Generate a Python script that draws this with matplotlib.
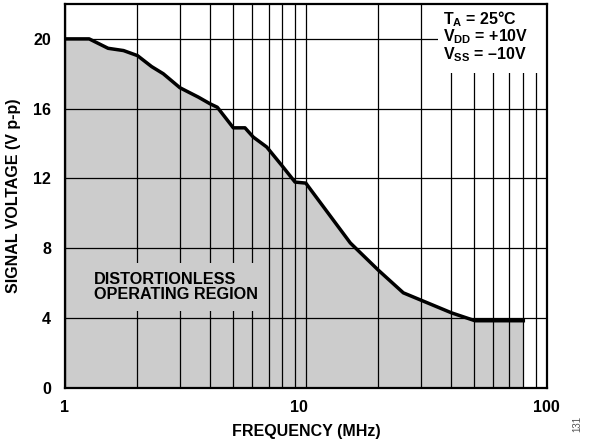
import matplotlib
matplotlib.use("Agg")
import matplotlib.pyplot as plt
from matplotlib.patches import Rectangle
from matplotlib.ticker import FixedLocator, NullFormatter
from matplotlib.transforms import ScaledTranslation

plt.rcParams['font.family'] = ['Liberation Sans', 'DejaVu Sans']
plt.rcParams['font.weight'] = 'bold'
plt.rcParams['mathtext.fontset'] = 'custom'
plt.rcParams['mathtext.rm'] = 'Liberation Sans:bold'
plt.rcParams['mathtext.bf'] = 'Liberation Sans:bold'

# Maximum undistorted signal swing vs. frequency
freq_mhz = [1.0, 1.26, 1.51, 1.75, 2.0, 2.29, 2.56, 3.0, 3.58, 4.0, 4.29,
            5.0, 5.59, 6.05, 6.88, 7.94, 9.02, 10.0, 15.3, 20.0, 25.4,
            40.3, 50.4, 80.0]
signal_vpp = [20.0, 20.0, 19.46, 19.33, 19.04, 18.41, 18.0, 17.2, 16.66,
              16.28, 16.08, 14.9, 14.9, 14.37, 13.8, 12.75, 11.79, 11.73,
              8.3, 6.74, 5.44, 4.29, 3.84, 3.84]

y_ticks = [0, 4, 8, 12, 16, 20]
x_ticks = [1, 10, 100]
x_tick_labels = ['1', '10', '100']
conditions = [r'T$_{\rm A}$ = 25°C', r'V$_{\rm DD}$ = +10V', r'V$_{\rm SS}$ = –10V']
region_label = 'DISTORTIONLESS\nOPERATING REGION'

FS = 11.5

fig = plt.figure(figsize=(6.0, 4.44), dpi=100)
ax = fig.add_axes([0.1083, 0.1268, 0.8028, 0.8642])

ax.set_xscale('log')
ax.set_xlim(1, 100)
ax.set_ylim(0, 22)

ax.fill_between(freq_mhz, signal_vpp, 0, color='#cccccc', lw=0, zorder=1)
ax.plot(freq_mhz, signal_vpp, color='black', lw=2.5, solid_joinstyle='round', zorder=3)

ax.xaxis.set_major_locator(FixedLocator(x_ticks))
ax.xaxis.set_minor_locator(FixedLocator([m * d for d in (1, 10) for m in range(2, 10)]))
ax.xaxis.set_minor_formatter(NullFormatter())
ax.set_xticklabels(x_tick_labels)
ax.set_yticks(y_ticks)
ax.tick_params(which='both', length=0, labelsize=FS)
ax.tick_params(axis='x', pad=9)
ax.tick_params(axis='y', pad=10)
for lbl in ax.get_xticklabels() + ax.get_yticklabels():
    lbl.set_fontweight('bold')
# the decade label at 10 sits a little left of its grid line
xl = ax.get_xticklabels()
xl[1].set_transform(xl[1].get_transform() + ScaledTranslation(-0.07, 0, fig.dpi_scale_trans))

ax.set_axisbelow(False)
ax.grid(True, which='both', color='black', lw=0.9)
for s in ax.spines.values():
    s.set_linewidth(1.6)
    s.set_zorder(6)

# Background panels that interrupt the grid behind text
ax.add_patch(Rectangle((0.775, 0.82), 0.225, 0.18, transform=ax.transAxes,
                       facecolor='white', edgecolor='none', zorder=4))
ax.add_patch(Rectangle((0.048, 0.2), 0.352, 0.125, transform=ax.transAxes,
                       facecolor='#cccccc', edgecolor='none', zorder=4))

ax.text(0.061, 0.262, region_label, transform=ax.transAxes, fontsize=11.7,
        fontweight='bold', ha='left', va='center', linespacing=1.0, zorder=5)

for txt, yy in zip(conditions, [0.948, 0.903, 0.855]):
    ax.text(0.785, yy, txt, transform=ax.transAxes, fontsize=FS,
            fontweight='bold', ha='left', va='baseline', zorder=5)

ax.set_xlabel('FREQUENCY (MHz)', fontsize=FS, fontweight='bold', labelpad=6)
ax.set_ylabel('SIGNAL VOLTAGE (V p-p)', fontsize=FS, fontweight='bold', labelpad=9)

fig.text(577.5 / 600, 1 - 424 / 444, '131', rotation=90, fontsize=7, fontweight='normal',
         color='#555555', ha='center', va='center')

fig.savefig('out.png', dpi=100)
